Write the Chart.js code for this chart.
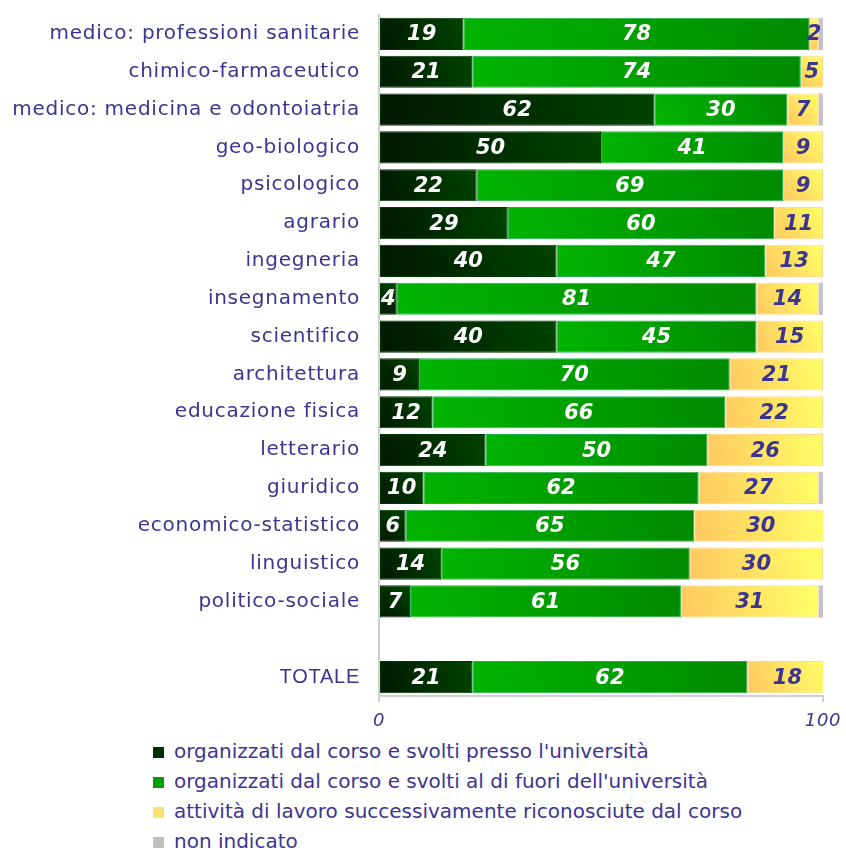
<!DOCTYPE html>
<html>
<head>
<meta charset="utf-8">
<script src="https://cdn.jsdelivr.net/npm/chart.js@4"></script>
<style>
	body { margin: 0; background: #fff; }
	#wrap { position: relative; width: 846px; height: 850px; }
	#chart-box { position: absolute; left: 0; top: 0; width: 846px; height: 735px; }
	#legend { position: absolute; left: 153px; top: 736px; font-family: "DejaVu Sans", sans-serif; font-size: 20px; color: #3b3592; }
	#legend div { height: 30px; line-height: 30px; white-space: nowrap; }
	#legend span { display: inline-block; width: 11px; height: 11px; margin-right: 10px; vertical-align: 0px; }
</style>
</head>
<body>
<div id="wrap">
	<div id="chart-box"><canvas id="chart-stage"></canvas></div>
	<div id="legend"></div>
</div>
<script>
// corsi di laurea (riga vuota prima del totale)
const categories = [
	'medico: professioni sanitarie', 'chimico-farmaceutico', 'medico: medicina e odontoiatria',
	'geo-biologico', 'psicologico', 'agrario', 'ingegneria', 'insegnamento', 'scientifico',
	'architettura', 'educazione fisica', 'letterario', 'giuridico', 'economico-statistico',
	'linguistico', 'politico-sociale', '', 'TOTALE'
]

const pressoUniversita = [19, 21, 62, 50, 22, 29, 40, 4, 40, 9, 12, 24, 10, 6, 14, 7, null, 21]
const fuoriUniversita = [78, 74, 30, 41, 69, 60, 47, 81, 45, 70, 66, 50, 62, 65, 56, 61, null, 62]
const lavoroRiconosciuto = [2, 5, 7, 9, 9, 11, 13, 14, 15, 21, 22, 26, 27, 30, 30, 31, null, 18]
const nonIndicato = [1, 0, 1, 0, 0, 0, 0, 1, 0, 0, 0, 0, 1, 0, 0, 1, null, 0]

const xTicks = [0, 100]

const seriesNames = [
	'organizzati dal corso e svolti presso l\'università',
	'organizzati dal corso e svolti al di fuori dell\'università',
	'attività  di lavoro successivamente riconosciute dal corso',
	'non indicato'
]

const textColor = '#3b3592'

// colour stops for each series: [bottom-left, top-right]
const gradStops = [
	['#001800', '#004400'],
	['#00b400', '#008a00'],
	['#ffc860', '#ffff66'],
	['#c0c0c0', '#c8c8c8']
]
const legendColors = ['#003000', '#00a000', '#ffe070', '#c0c0c0']
const borders = ['#003a00', '#20b050', '#ffd890', '#c0c0c0']

// fill each bar with a diagonal gradient over its own box
function barFill(context) {
	const chart = context.chart
	const ds = context.datasetIndex
	const i = context.dataIndex
	const xs = chart.scales.x, ys = chart.scales.y
	if (!xs || !ys || !chart.chartArea) return gradStops[ds][0]
	let start = 0
	for (let k = 0; k < ds; k++) start += chart.data.datasets[k].data[i] || 0
	const end = start + (chart.data.datasets[ds].data[i] || 0)
	const x0 = xs.getPixelForValue(start)
	const x1 = xs.getPixelForValue(end)
	const y = ys.getPixelForValue(i)
	const g = chart.ctx.createLinearGradient(x0, y + 16, x1, y - 16)
	g.addColorStop(0, gradStops[ds][0])
	g.addColorStop(1, gradStops[ds][1])
	return g
}

// spaced-out axis text, plain text for the bars
const spacing = {
	id: 'spacing',
	beforeDraw(chart) { chart.ctx.letterSpacing = '0.75px' },
	beforeDatasetsDraw(chart) { chart.ctx.letterSpacing = '0px' }
}

const barLabels = {
	id: 'barLabels',
	afterDatasetsDraw(chart) {
		const ctx = chart.ctx
		ctx.save()
		ctx.font = 'italic bold 21px "DejaVu Sans"'
		ctx.textAlign = 'center'
		ctx.textBaseline = 'middle'
		for (let d = 0; d < 3; d++) {
			const meta = chart.getDatasetMeta(d)
			ctx.fillStyle = d == 2 ? textColor : '#ffffff'
			meta.data.forEach((bar, i) => {
				const v = chart.data.datasets[d].data[i]
				if (v == null || v <= 0) return
				ctx.fillText(v, (bar.x + bar.base) / 2, bar.y + 1)
			})
		}
		ctx.restore()
	}
}

const stage = new Chart(document.getElementById('chart-stage'), {
	type: 'bar',
	data: {
		labels: categories,
		datasets: [pressoUniversita, fuoriUniversita, lavoroRiconosciuto, nonIndicato].map((values, d) => ({
			label: seriesNames[d],
			data: values,
			backgroundColor: barFill,
			borderColor: borders[d],
			borderWidth: d == 3 ? 0 : 1,
			borderSkipped: false,
			barPercentage: 0.85,
			categoryPercentage: 1
		}))
	},
	options: {
		indexAxis: 'y',
		responsive: true,
		maintainAspectRatio: false,
		animation: false,
		layout: { padding: { left: 0, right: 23, top: 15, bottom: 0 } },
		plugins: {
			legend: { display: false },
			tooltip: { enabled: false }
		},
		scales: {
			x: {
				stacked: true,
				min: 0,
				max: 100,
				afterBuildTicks: axis => { axis.ticks = xTicks.map(v => ({ value: v })) },
				afterFit: axis => {
					axis.height = 39
					axis.paddingLeft = 0
					axis.paddingRight = 0
				},
				grid: { drawOnChartArea: false, color: '#d0d0d0', lineWidth: 2, tickLength: 6 },
				border: { color: '#d0d0d0', width: 2 },
				ticks: {
					color: textColor,
					padding: 9,
					maxRotation: 0,
					font: { family: 'DejaVu Sans', size: 18, style: 'italic' }
				}
			},
			y: {
				stacked: true,
				afterFit: axis => {
					axis.width = 379
					axis.paddingTop = 0
					axis.paddingBottom = 0
				},
				grid: { color: 'transparent', drawTicks: false },
				border: { color: '#d0d0d0', width: 2 },
				ticks: {
					autoSkip: false,
					padding: 19,
					color: textColor,
					font: c => c.index == categories.length - 1
						? { family: 'Liberation Sans', size: 20 }
						: { family: 'DejaVu Sans', size: 20 }
				}
			}
		}
	},
	plugins: [spacing, barLabels]
})

// legend as a vertical list under the chart
document.getElementById('legend').innerHTML = stage.data.datasets
	.map((ds, d) => '<div><span style="background:' + legendColors[d] + '"></span>' + ds.label + '</div>')
	.join('')
</script>
</body>
</html>
